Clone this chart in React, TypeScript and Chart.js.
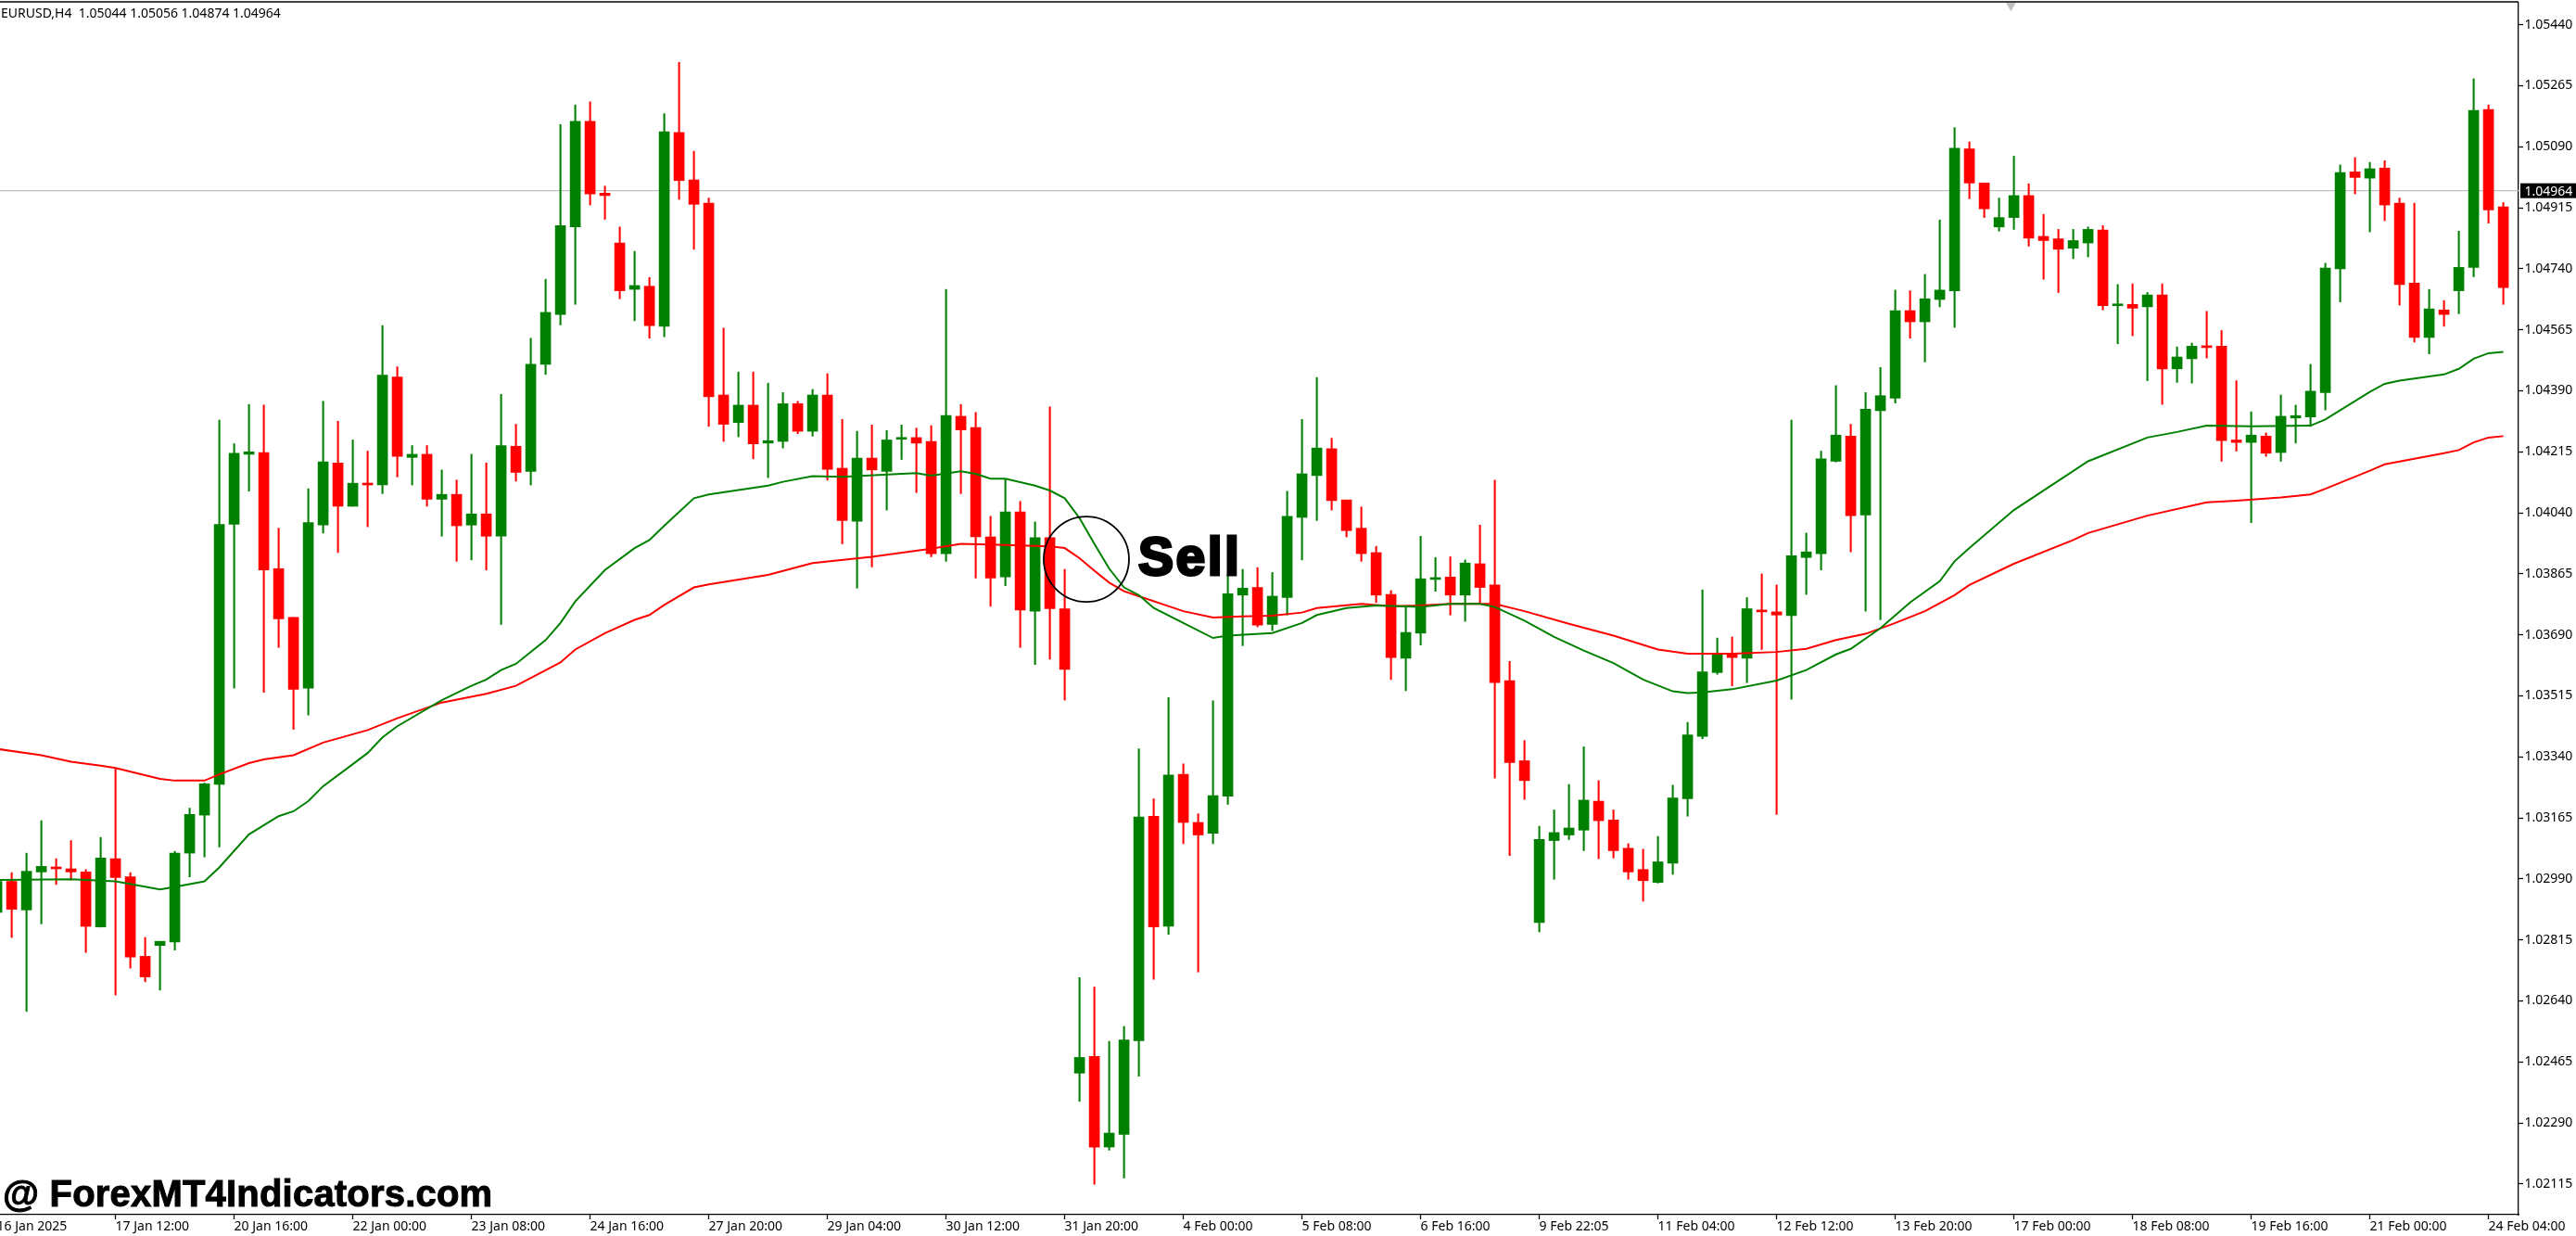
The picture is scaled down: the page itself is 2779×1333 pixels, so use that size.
import { useEffect, useRef } from 'react'
import { Chart, registerables } from 'chart.js'

Chart.register(...registerables)

const GREEN = '#008000'
const RED = '#ff0000'
const LABEL_FONT = '"Noto Sans"'

// bar index of the first candle, it sits just off the left edge
const FIRST_BAR = -1

const highs = [
  1.03012,1.03008,1.03064,1.03157,1.03048,1.03100,1.03017,1.03109,1.03306,1.03008,
  1.02822,1.02811,1.03069,1.03193,1.03265,1.04306,1.04238,1.04351,1.04349,1.03996,
  1.03740,1.04109,1.04360,1.04303,1.04249,1.04217,1.04577,1.04459,1.04233,1.04233,
  1.04163,1.04134,1.04208,1.04183,1.04380,1.04294,1.04541,1.04710,1.05154,1.05210,
  1.05219,1.04977,1.04860,1.04790,1.04715,1.05185,1.05332,1.05077,1.04943,1.04570,
  1.04444,1.04444,1.04412,1.04385,1.04360,1.04394,1.04439,1.04308,1.04274,1.04292,
  1.04276,1.04292,1.04283,1.04290,1.04681,1.04351,1.04328,1.04030,1.04136,1.04073,
  1.04014,1.04344,1.03878,1.02707,1.02680,1.02524,1.02567,1.03363,1.03220,1.03510,
  1.03320,1.03177,1.03501,1.03865,1.03878,1.03883,1.03869,1.04102,1.04308,1.04428,
  1.04254,1.04077,1.04057,1.03944,1.03817,1.03770,1.03973,1.03912,1.03914,1.03905,
  1.04005,1.04134,1.03614,1.03387,1.03141,1.03188,1.03261,1.03369,1.03272,1.03188,
  1.03091,1.03075,1.03112,1.03259,1.03439,1.03819,1.03681,1.03684,1.03797,1.03865,
  1.03833,1.04306,1.03982,1.04217,1.04405,1.04294,1.04385,1.04457,1.04679,1.04677,
  1.04724,1.04880,1.05145,1.05104,1.04986,1.04943,1.05063,1.04984,1.04896,1.04853,
  1.04853,1.04860,1.04864,1.04695,1.04697,1.04672,1.04697,1.04516,1.04527,1.04618,
  1.04563,1.04419,1.04330,1.04269,1.04378,1.04349,1.04466,1.04756,1.05038,1.05059,
  1.05045,1.05050,1.04943,1.04928,1.04681,1.04649,1.04848,1.05285,1.05210,1.04930,
]

const lows = [
  1.02865,1.02822,1.02610,1.02861,1.02974,1.02987,1.02779,1.02852,1.02657,1.02734,
  1.02695,1.02671,1.02786,1.02996,1.03053,1.03082,1.03537,1.04102,1.03525,1.03654,
  1.03419,1.03460,1.03982,1.03926,1.04059,1.04000,1.04095,1.04143,1.04120,1.04059,
  1.03973,1.03901,1.03905,1.03876,1.03720,1.04131,1.04120,1.04437,1.04579,1.04638,
  1.04923,1.04882,1.04654,1.04591,1.04541,1.04545,1.04939,1.04796,1.04288,1.04245,
  1.04258,1.04195,1.04141,1.04226,1.04267,1.04260,1.04134,1.03951,1.03824,1.03885,
  1.04048,1.04193,1.04098,1.03914,1.03901,1.04095,1.03853,1.03772,1.03831,1.03654,
  1.03605,1.03620,1.03503,1.02352,1.02114,1.02212,1.02132,1.02424,1.02702,1.02831,
  1.03091,1.02723,1.03091,1.03204,1.03659,1.03713,1.03702,1.03747,1.03905,1.04018,
  1.04048,1.03971,1.03901,1.03783,1.03562,1.03530,1.03661,1.03815,1.03747,1.03729,
  1.03781,1.03279,1.03057,1.03218,1.02838,1.02989,1.03103,1.03071,1.03048,1.03050,
  1.02989,1.02926,1.02978,1.03003,1.03170,1.03392,1.03577,1.03544,1.03553,1.03648,
  1.03175,1.03505,1.03806,1.03876,1.04186,1.03928,1.03758,1.03733,1.04355,1.04541,
  1.04473,1.04631,1.04572,1.04941,1.04887,1.04848,1.04853,1.04805,1.04710,1.04672,
  1.04769,1.04774,1.04622,1.04525,1.04548,1.04419,1.04351,1.04414,1.04412,1.04484,
  1.04188,1.04217,1.04012,1.04202,1.04188,1.04240,1.04288,1.04335,1.04645,1.04955,
  1.04846,1.04878,1.04636,1.04530,1.04496,1.04575,1.04611,1.04717,1.04871,1.04638,
]

const opens = [
  1.02894,1.02983,1.02901,1.03010,1.03023,1.03019,1.03010,1.02852,1.03048,1.02996,
  1.02768,1.02799,1.02809,1.03064,1.03173,1.03261,1.04007,1.04208,1.04213,1.03880,
  1.03740,1.03537,1.04005,1.04183,1.04059,1.04122,1.04120,1.04430,1.04199,1.04208,
  1.04079,1.04093,1.04005,1.04037,1.03973,1.04231,1.04159,1.04466,1.04609,1.04860,
  1.05163,1.04957,1.04814,1.04681,1.04690,1.04575,1.05131,1.04995,1.04928,1.04378,
  1.04299,1.04349,1.04240,1.04245,1.04353,1.04274,1.04378,1.04168,1.04016,1.04197,
  1.04159,1.04251,1.04256,1.04245,1.03923,1.04317,1.04285,1.03971,1.03856,1.04043,
  1.03758,1.03969,1.03765,1.02433,1.02481,1.02221,1.02257,1.02526,1.03170,1.02854,
  1.03290,1.03152,1.03121,1.03227,1.03804,1.03826,1.03720,1.03797,1.04027,1.04147,
  1.04224,1.04077,1.03996,1.03926,1.03806,1.03623,1.03695,1.03849,1.03856,1.03804,
  1.03894,1.03833,1.03559,1.03329,1.02865,1.03100,1.03116,1.03130,1.03213,1.03159,
  1.03078,1.03017,1.02980,1.03035,1.03220,1.03399,1.03582,1.03636,1.03623,1.03761,
  1.03756,1.03745,1.03912,1.03923,1.04188,1.04260,1.04034,1.04333,1.04369,1.04620,
  1.04588,1.04652,1.04677,1.05084,1.04986,1.04860,1.04887,1.04950,1.04833,1.04826,
  1.04799,1.04814,1.04851,1.04634,1.04638,1.04631,1.04665,1.04453,1.04482,1.04518,
  1.04518,1.04249,1.04242,1.04260,1.04213,1.04312,1.04315,1.04385,1.04740,1.05018,
  1.05000,1.05029,1.04928,1.04699,1.04543,1.04622,1.04677,1.04744,1.05197,1.04918,
]

const closes = [
  1.02983,1.02903,1.03012,1.03026,1.03019,1.03010,1.02854,1.03050,1.02994,1.02766,
  1.02709,1.02811,1.03064,1.03175,1.03263,1.04007,1.04211,1.04215,1.03876,1.03736,
  1.03534,1.04012,1.04186,1.04059,1.04125,1.04120,1.04435,1.04202,1.04208,1.04079,
  1.04093,1.04003,1.04037,1.03973,1.04233,1.04156,1.04466,1.04615,1.04864,1.05163,
  1.04955,1.04950,1.04677,1.04692,1.04577,1.05133,1.04993,1.04925,1.04373,1.04294,
  1.04349,1.04238,1.04247,1.04353,1.04274,1.04378,1.04165,1.04018,1.04197,1.04163,
  1.04249,1.04256,1.04240,1.03923,1.04319,1.04278,1.03971,1.03853,1.04043,1.03761,
  1.03969,1.03765,1.03591,1.02478,1.02221,1.02261,1.02528,1.03168,1.02852,1.03288,
  1.03152,1.03116,1.03229,1.03808,1.03824,1.03718,1.03801,1.04030,1.04152,1.04226,
  1.04075,1.03989,1.03923,1.03804,1.03625,1.03697,1.03851,1.03853,1.03804,1.03896,
  1.03826,1.03553,1.03324,1.03272,1.03103,1.03123,1.03136,1.03216,1.03157,1.03071,
  1.03010,1.02985,1.03039,1.03222,1.03403,1.03584,1.03636,1.03625,1.03765,1.03756,
  1.03747,1.03917,1.03928,1.04195,1.04263,1.04032,1.04337,1.04376,1.04620,1.04588,
  1.04654,1.04679,1.05086,1.04986,1.04912,1.04887,1.04950,1.04828,1.04821,1.04796,
  1.04821,1.04853,1.04634,1.04638,1.04627,1.04665,1.04453,1.04487,1.04518,1.04514,
  1.04247,1.04242,1.04263,1.04211,1.04317,1.04319,1.04389,1.04742,1.05016,1.05002,
  1.05027,1.04923,1.04695,1.04543,1.04625,1.04609,1.04744,1.05194,1.04909,1.04686,
]

const fastMaBars = [
  -1,4,7,10,11,13,14,16,18,19,20,21,24,25,26,29,31,32,33,34,36,37,38,40,42,43,44,46,47,51,52,54,56,60,61,62,64,65,66,67,69,
  70,71,72,73,74,75,76,77,79,81,82,85,87,88,90,92,95,97,99,100,102,104,106,108,110,112,113,114,116,119,121,123,124,126,128,
  130,131,132,135,140,144,146,148,151,155,156,159,160,161,164,165,166,167,168,
]
const fastMa = [
  1.02987,1.02989,1.02983,1.02960,1.02967,1.02983,1.03023,1.03118,1.03170,1.03184,1.03213,1.03256,1.03351,1.03396,1.03428,
  1.03503,1.03544,1.03562,1.03589,1.03607,1.03675,1.03724,1.03786,1.03876,1.03939,1.03962,1.04003,1.04082,1.04093,1.04118,
  1.04129,1.04145,1.04143,1.04152,1.04154,1.04147,1.04159,1.04152,1.04138,1.04138,1.04118,1.04104,1.04082,1.04025,1.03951,
  1.03880,1.03826,1.03804,1.03767,1.03724,1.03681,1.03688,1.03695,1.03724,1.03747,1.03767,1.03774,1.03770,1.03779,1.03779,
  1.03770,1.03731,1.03684,1.03645,1.03609,1.03562,1.03528,1.03523,1.03525,1.03534,1.03559,1.03589,1.03634,1.03650,1.03709,
  1.03783,1.03844,1.03901,1.03939,1.04048,1.04188,1.04256,1.04272,1.04290,1.04288,1.04290,1.04308,1.04387,1.04410,1.04419,
  1.04437,1.04453,1.04482,1.04498,1.04502,
]

const slowMaBars = [
  -1,2,4,6,7,10,11,13,14,16,17,19,21,24,26,29,32,34,37,38,40,42,43,44,46,47,51,54,58,62,64,67,70,71,72,73,74,75,76,79,81,83,85,
  87,88,91,93,95,97,100,102,105,108,111,113,116,119,121,123,125,127,129,131,132,135,139,140,144,148,150,153,155,156,159,160,
  164,165,166,167,168,
]
const slowMa = [
  1.03363,1.03345,1.03326,1.03315,1.03308,1.03277,1.03272,1.03272,1.03290,1.03322,1.03333,1.03345,1.03381,1.03417,1.03451,
  1.03496,1.03521,1.03544,1.03611,1.03648,1.03695,1.03733,1.03747,1.03776,1.03826,1.03835,1.03862,1.03896,1.03914,1.03937,
  1.03951,1.03948,1.03944,1.03939,1.03910,1.03874,1.03840,1.03815,1.03801,1.03758,1.03740,1.03743,1.03745,1.03754,1.03767,
  1.03779,1.03772,1.03774,1.03779,1.03779,1.03758,1.03722,1.03688,1.03648,1.03636,1.03636,1.03641,1.03650,1.03675,1.03693,
  1.03724,1.03758,1.03804,1.03833,1.03894,1.03962,1.03982,1.04032,1.04070,1.04075,1.04084,1.04093,1.04109,1.04161,1.04179,
  1.04211,1.04220,1.04242,1.04256,1.04260,
]

const dateLabels = [
  '16 Jan 2025','17 Jan 12:00','20 Jan 16:00','22 Jan 00:00','23 Jan 08:00','24 Jan 16:00','27 Jan 20:00','29 Jan 04:00',
  '30 Jan 12:00','31 Jan 20:00','4 Feb 00:00','5 Feb 08:00','6 Feb 16:00','9 Feb 22:05','11 Feb 04:00','12 Feb 12:00',
  '13 Feb 20:00','17 Feb 00:00','18 Feb 08:00','19 Feb 16:00','21 Feb 00:00','24 Feb 04:00',
]
const dateTickBars = dateLabels.map((_, n) => FIRST_BAR + n * 8)

const priceTicks = [
  1.0544,1.05265,1.0509,1.04915,1.0474,1.04565,1.0439,1.04215,1.0404,1.03865,
  1.0369,1.03515,1.0334,1.03165,1.0299,1.02815,1.0264,1.02465,1.0229,1.02115,
]

const BID = 1.04964
const HEADER = 'EURUSD,H4  1.05044 1.05056 1.04874 1.04964'
const SELL_CIRCLE = { x: 72.46, y: 1.03907 }
const SELL_TEXT = { bar: 75.96, price: 1.03862 }
const TOP_MARKER = { x: 134.8, y: 1.055 }

const bars = highs.map((_, n) => n + FIRST_BAR)
const candleColors = closes.map((c, n) => (c >= opens[n] ? GREEN : RED))

const overlayText = {
  id: 'overlayText',
  afterDraw(chart: Chart) {
    const { ctx, scales, chartArea } = chart
    ctx.save()
    // frame line along the top
    ctx.strokeStyle = '#000'
    ctx.lineWidth = 1.3
    ctx.beginPath()
    ctx.moveTo(0, 2)
    ctx.lineTo(chartArea.right, 2)
    ctx.stroke()

    ctx.textBaseline = 'alphabetic'
    ctx.textAlign = 'left'
    ctx.fillStyle = '#000'
    ctx.font = `14px ${LABEL_FONT}`
    ctx.fillText(HEADER, 1, 19)

    // current price tag
    const tagY = scales.y.getPixelForValue(BID)
    ctx.fillRect(chartArea.right + 2, tagY - 8, 60, 16)
    ctx.fillStyle = '#fff'
    ctx.textBaseline = 'middle'
    ctx.fillText(BID.toFixed(5), chartArea.right + 6.5, tagY + 1)

    ctx.fillStyle = '#000'
    ctx.strokeStyle = '#000'
    ctx.textBaseline = 'alphabetic'
    ctx.font = 'bold 57px "Liberation Sans"'
    ;(ctx as any).letterSpacing = '2.5px'
    ctx.lineWidth = 3
    const sx = scales.x.getPixelForValue(SELL_TEXT.bar)
    const sy = scales.y.getPixelForValue(SELL_TEXT.price)
    ctx.fillText('Sell', sx, sy)
    ctx.strokeText('Sell', sx, sy)

    ctx.font = 'bold 40px "Liberation Sans"'
    ;(ctx as any).letterSpacing = '0.2px'
    ctx.lineWidth = 1
    ctx.fillText('@ ForexMT4Indicators.com', 3, 1301)
    ctx.strokeText('@ ForexMT4Indicators.com', 3, 1301)
    ctx.restore()
  },
}

export default function App() {
  const canvasRef = useRef<HTMLCanvasElement>(null)

  useEffect(() => {
    document.body.style.margin = '0'
    if (!canvasRef.current) return

    const chart = new Chart(canvasRef.current, {
      type: 'bar',
      data: {
        datasets: [
          {
            type: 'line',
            label: 'Bid',
            data: [{ x: -2, y: BID }, { x: 170, y: BID }],
            borderColor: '#c0c0c0',
            borderWidth: 1.2,
            pointRadius: 0,
            order: 10,
          },
          {
            label: 'Wicks',
            data: bars.map((x, n) => ({ x, y: [lows[n], highs[n]] })),
            backgroundColor: candleColors,
            barThickness: 1.4,
            grouped: false,
            order: 5,
          },
          {
            label: 'Bodies',
            data: bars.map((x, n) => ({ x, y: [opens[n], closes[n]] })),
            backgroundColor: candleColors,
            barThickness: 11,
            minBarLength: 2,
            grouped: false,
            order: 4,
          },
          {
            type: 'line',
            label: 'Slow MA',
            data: slowMaBars.map((x, n) => ({ x, y: slowMa[n] })),
            borderColor: RED,
            borderWidth: 2,
            pointRadius: 0,
            order: 3,
          },
          {
            type: 'line',
            label: 'Fast MA',
            data: fastMaBars.map((x, n) => ({ x, y: fastMa[n] })),
            borderColor: GREEN,
            borderWidth: 2,
            pointRadius: 0,
            order: 2,
          },
          {
            type: 'scatter',
            label: 'Sell circle',
            data: [SELL_CIRCLE],
            pointRadius: 46,
            pointBorderColor: '#000',
            pointBorderWidth: 1.8,
            pointBackgroundColor: 'transparent',
            order: 1,
          },
          {
            type: 'scatter',
            label: 'Marker',
            data: [TOP_MARKER],
            pointStyle: 'triangle',
            rotation: 180,
            pointRadius: 8,
            pointBorderWidth: 0,
            pointBackgroundColor: '#c0c0c0',
            order: 1,
          },
        ],
      },
      options: {
        responsive: false,
        devicePixelRatio: 1,
        animation: false,
        layout: { autoPadding: false, padding: { top: 3, left: 0, right: 0, bottom: 0 } },
        plugins: { legend: { display: false }, tooltip: { enabled: false } },
        scales: {
          x: {
            type: 'linear',
            offset: false,
            bounds: 'data',
            min: -0.7875,
            max: 169.025,
            grid: { offset: false, drawOnChartArea: false, tickLength: 5, tickColor: '#000', tickWidth: 1.3 },
            border: { color: '#000', width: 1.3 },
            afterBuildTicks: (s: any) => { s.ticks = dateTickBars.map(value => ({ value })) },
            afterFit: (s: any) => { s.height = 23; s.paddingLeft = 0; s.paddingRight = 0 },
            ticks: {
              autoSkip: false,
              maxRotation: 0,
              align: 'start',
              padding: 0,
              color: '#000',
              font: { family: LABEL_FONT, size: 14 },
              callback: (v: any) => dateLabels[(Number(v) - FIRST_BAR) / 8],
            },
          },
          y: {
            position: 'right',
            bounds: 'data',
            min: 1.02027,
            max: 1.05503,
            grid: { drawOnChartArea: false, tickLength: 5, tickColor: '#000', tickWidth: 1.3 },
            border: { color: '#000', width: 1.3 },
            afterBuildTicks: (s: any) => { s.ticks = priceTicks.map(value => ({ value })) },
            afterFit: (s: any) => { s.width = 62; s.paddingTop = 0; s.paddingBottom = 0 },
            ticks: {
              autoSkip: false,
              padding: 1.5,
              color: '#000',
              font: { family: LABEL_FONT, size: 14 },
              callback: (v: any) => Number(v).toFixed(5),
            },
          },
        },
      },
      plugins: [overlayText],
    } as any)

    return () => { chart.destroy() }
  }, [])

  return <canvas ref={canvasRef} width={2779} height={1333} style={{ display: 'block' }} />
}
